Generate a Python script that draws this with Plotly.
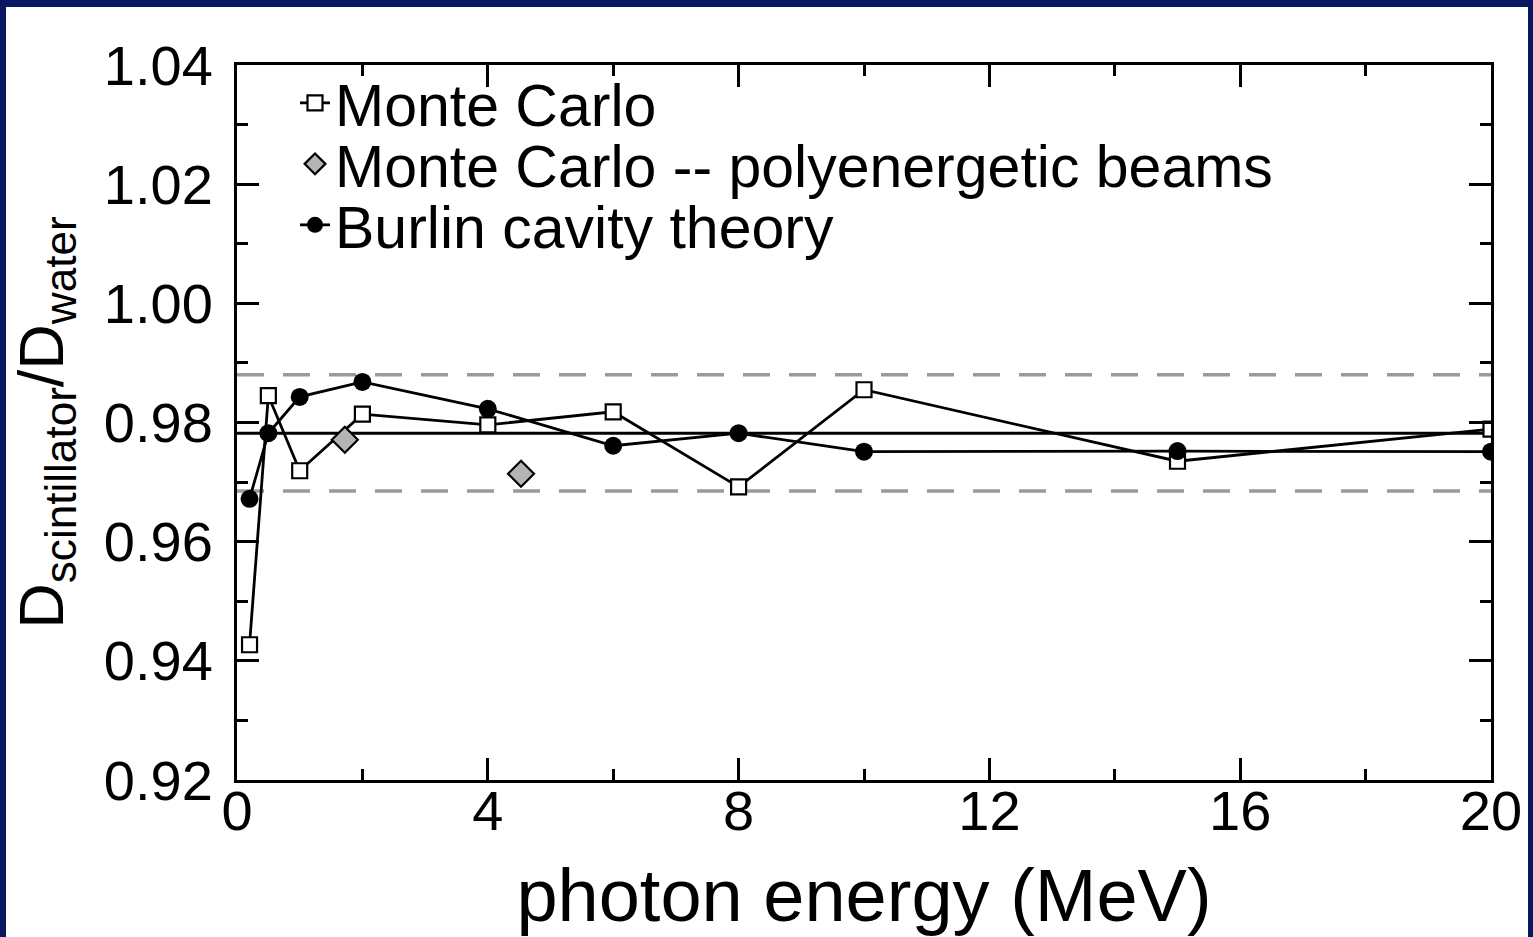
import plotly.graph_objects as go

# ---- data ----
energy_mc = [0.2, 0.5, 1, 2, 4, 6, 8, 10, 15, 20]
ratio_mc = [0.9427, 0.9845, 0.9719, 0.9814, 0.9796, 0.9818, 0.9692, 0.9855, 0.9735, 0.9789]

energy_poly = [1.72, 4.53]
ratio_poly = [0.9771, 0.9714]

energy_burlin = [0.2, 0.5, 1, 2, 4, 6, 8, 10, 15, 20]
ratio_burlin = [0.9672, 0.9782, 0.9843, 0.9868, 0.9823, 0.9761, 0.9782, 0.9751, 0.9752, 0.9751]

ref_x = [0, 20]
mean_ratio = 0.9782
band_low = 0.9685
band_high = 0.9880

x_tickvals = [0, 4, 8, 12, 16, 20]
y_tickvals = [0.92, 0.94, 0.96, 0.98, 1.00, 1.02, 1.04]

FONT = "Liberation Sans, Arial, sans-serif"
NAVY = "#0a1862"

fig = go.Figure()

# reference band lines
fig.add_trace(go.Scatter(x=ref_x, y=[band_high, band_high], mode="lines",
                         line=dict(color="#9a9a9a", width=3.5, dash="27px,19px"),
                         showlegend=False, hoverinfo="skip"))
fig.add_trace(go.Scatter(x=ref_x, y=[band_low, band_low], mode="lines",
                         line=dict(color="#9a9a9a", width=3.5, dash="27px,19px"),
                         showlegend=False, hoverinfo="skip"))
fig.add_trace(go.Scatter(x=ref_x, y=[mean_ratio, mean_ratio], mode="lines",
                         line=dict(color="black", width=2.8),
                         showlegend=False, hoverinfo="skip"))

fig.add_trace(go.Scatter(x=energy_mc, y=ratio_mc, mode="lines+markers", name="Monte Carlo",
                         line=dict(color="black", width=2.8),
                         marker=dict(symbol="square", size=15, color="white",
                                     line=dict(color="black", width=2.2)),
                         legend="legend"))
fig.add_trace(go.Scatter(x=energy_poly, y=ratio_poly, mode="markers",
                         name="Monte Carlo -- polyenergetic beams",
                         marker=dict(symbol="diamond", size=20, color="#b4b4b4",
                                     line=dict(color="black", width=2.2)),
                         legend="legend2"))
fig.add_trace(go.Scatter(x=energy_burlin, y=ratio_burlin, mode="lines+markers",
                         name="Burlin cavity theory",
                         line=dict(color="black", width=2.8),
                         marker=dict(symbol="circle", size=18, color="black"),
                         legend="legend3"))

L, R, T, B = 237, 42, 65, 157
W, H = 1533, 937
pw, ph = W - L - R, H - T - B

def px(xp):
    return (xp - L) / pw

def py(yp):
    return (H - B - yp) / ph

leg_common = dict(font=dict(family=FONT, size=59, color="black"), bgcolor="rgba(0,0,0,0)",
                  xanchor="left", yanchor="middle", borderwidth=0)

fig.update_layout(
    width=W, height=H,
    margin=dict(l=L, r=R, t=T, b=B),
    paper_bgcolor=NAVY,
    plot_bgcolor="white",
    font=dict(family=FONT, color="black"),
    legend=dict(x=px(295), y=py(103), **leg_common),
    legend2=dict(x=px(295), y=py(164), **leg_common),
    legend3=dict(x=px(295), y=py(225), **leg_common),
    shapes=[dict(type="rect", xref="paper", yref="paper", layer="below",
                 x0=px(6), x1=px(1528), y0=py(945), y1=py(7),
                 fillcolor="white", line=dict(width=0))],
)

fig.update_xaxes(
    range=[0, 20], tickvals=x_tickvals, ticktext=[str(v) for v in x_tickvals],
    ticks="inside", ticklen=22, tickwidth=3, tickcolor="black",
    showline=True, linewidth=3, linecolor="black", mirror="ticks",
    showgrid=False, zeroline=False,
    tickfont=dict(family=FONT, size=56, color="black"),
    ticklabelstandoff=-20,
    minor=dict(dtick=2, tick0=0, ticks="inside", ticklen=11, tickwidth=3, tickcolor="black", showgrid=False),
    title=dict(text="photon energy (MeV)", font=dict(family=FONT, size=74, color="black"), standoff=34),
    automargin=False,
)
fig.update_yaxes(
    range=[0.92, 1.04], tickvals=y_tickvals, ticktext=["%.2f" % v for v in y_tickvals],
    ticks="inside", ticklen=22, tickwidth=3, tickcolor="black",
    showline=True, linewidth=3, linecolor="black", mirror="ticks",
    showgrid=False, zeroline=False,
    tickfont=dict(family=FONT, size=56, color="black"),
    ticklabelstandoff=10,
    minor=dict(dtick=0.01, tick0=0.92, ticks="inside", ticklen=11, tickwidth=3, tickcolor="black", showgrid=False),
    title=dict(text="D<sub>scintillator</sub>/D<sub>water</sub>",
               font=dict(family=FONT, size=63, color="black"), standoff=20),
    automargin=False,
)

fig.write_html("out.html")
